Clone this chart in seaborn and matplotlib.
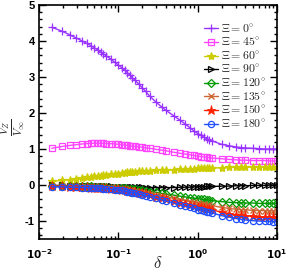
import numpy as np
import pandas as pd
import matplotlib
matplotlib.use("Agg")
import matplotlib.pyplot as plt
import matplotlib.ticker as mticker
import seaborn as sns

delta = [0.0145, 0.0195, 0.0245, 0.0295, 0.035, 0.04, 0.045, 0.05, 0.055, 0.06,
         0.065, 0.07, 0.08, 0.09, 0.1, 0.11, 0.12, 0.13, 0.14, 0.15,
         0.16, 0.18, 0.2, 0.22, 0.25, 0.3, 0.35, 0.4, 0.5, 0.6,
         0.7, 0.8, 0.9, 1.0, 1.1, 1.2, 1.3, 1.4, 1.5, 2.0,
         2.5, 3.0, 3.5, 4.0, 5.0, 6.0, 7.0, 8.0, 9.0, 10.0]

xi_0 = [4.38, 4.27, 4.17, 4.08, 4.0, 3.93, 3.87, 3.81, 3.75, 3.69,
        3.64, 3.59, 3.5, 3.41, 3.33, 3.26, 3.19, 3.12, 3.05, 2.98,
        2.92, 2.81, 2.7, 2.6, 2.46, 2.3, 2.17, 2.07, 1.92, 1.8,
        1.69, 1.59, 1.5, 1.43, 1.38, 1.33, 1.29, 1.26, 1.23, 1.13,
        1.09, 1.06, 1.04, 1.03, 1.02, 1.01, 1.0, 1.0, 1.0, 1.0]
xi_45 = [1.02, 1.07, 1.1, 1.12, 1.14, 1.15, 1.16, 1.16, 1.16, 1.16,
         1.16, 1.15, 1.15, 1.14, 1.13, 1.12, 1.11, 1.1, 1.09, 1.08,
         1.07, 1.06, 1.05, 1.03, 1.02, 0.99, 0.97, 0.95, 0.91, 0.88,
         0.86, 0.84, 0.82, 0.8, 0.79, 0.78, 0.77, 0.76, 0.75, 0.73,
         0.71, 0.7, 0.69, 0.69, 0.68, 0.68, 0.68, 0.67, 0.67, 0.67]
xi_60 = [0.1, 0.13, 0.15, 0.17, 0.19, 0.21, 0.22, 0.24, 0.25, 0.26,
         0.27, 0.28, 0.3, 0.31, 0.32, 0.33, 0.34, 0.35, 0.36, 0.36,
         0.37, 0.38, 0.39, 0.4, 0.4, 0.41, 0.42, 0.42, 0.43, 0.44,
         0.44, 0.45, 0.45, 0.46, 0.46, 0.46, 0.47, 0.47, 0.47, 0.48,
         0.49, 0.49, 0.5, 0.5, 0.5, 0.5, 0.51, 0.51, 0.51, 0.51]
xi_90 = [-0.01, -0.01, -0.02, -0.02, -0.02, -0.03, -0.03, -0.03, -0.03, -0.04,
         -0.04, -0.04, -0.04, -0.05, -0.05, -0.05, -0.05, -0.06, -0.06, -0.06,
         -0.06, -0.06, -0.06, -0.07, -0.07, -0.07, -0.07, -0.07, -0.07, -0.06,
         -0.06, -0.06, -0.05, -0.05, -0.05, -0.05, -0.04, -0.04, -0.04, -0.03,
         -0.03, -0.02, -0.02, -0.02, -0.01, -0.01, -0.01, 0.0, 0.0, 0.0]
xi_120 = [-0.02, -0.02, -0.03, -0.03, -0.04, -0.04, -0.04, -0.05, -0.05, -0.05,
          -0.06, -0.06, -0.07, -0.07, -0.08, -0.09, -0.09, -0.1, -0.11, -0.11,
          -0.12, -0.13, -0.15, -0.16, -0.18, -0.2, -0.23, -0.25, -0.28, -0.31,
          -0.33, -0.35, -0.37, -0.38, -0.39, -0.4, -0.41, -0.42, -0.43, -0.46,
          -0.48, -0.49, -0.49, -0.5, -0.5, -0.51, -0.51, -0.51, -0.51, -0.51]
xi_135 = [-0.03, -0.03, -0.04, -0.04, -0.05, -0.05, -0.06, -0.06, -0.07, -0.07,
          -0.07, -0.08, -0.09, -0.09, -0.1, -0.11, -0.12, -0.13, -0.14, -0.15,
          -0.16, -0.18, -0.2, -0.21, -0.24, -0.27, -0.3, -0.33, -0.37, -0.41,
          -0.44, -0.46, -0.48, -0.5, -0.52, -0.53, -0.55, -0.56, -0.57, -0.62,
          -0.65, -0.67, -0.68, -0.69, -0.7, -0.71, -0.71, -0.72, -0.72, -0.72]
xi_150 = [-0.04, -0.04, -0.05, -0.05, -0.06, -0.06, -0.07, -0.07, -0.08, -0.08,
          -0.09, -0.09, -0.1, -0.11, -0.12, -0.13, -0.14, -0.16, -0.17, -0.18,
          -0.19, -0.21, -0.23, -0.25, -0.29, -0.33, -0.36, -0.39, -0.44, -0.49,
          -0.52, -0.55, -0.58, -0.6, -0.62, -0.64, -0.66, -0.67, -0.69, -0.75,
          -0.79, -0.82, -0.84, -0.85, -0.87, -0.88, -0.89, -0.89, -0.9, -0.9]
xi_180 = [-0.05, -0.05, -0.06, -0.06, -0.07, -0.07, -0.08, -0.08, -0.09, -0.09,
          -0.1, -0.1, -0.11, -0.13, -0.14, -0.15, -0.17, -0.18, -0.2, -0.21,
          -0.22, -0.25, -0.27, -0.3, -0.33, -0.37, -0.41, -0.44, -0.5, -0.55,
          -0.59, -0.62, -0.65, -0.68, -0.7, -0.72, -0.74, -0.76, -0.77, -0.85,
          -0.89, -0.93, -0.95, -0.97, -0.99, -1.0, -1.01, -1.01, -1.02, -1.02]

labels = [r"$\Xi = 0^{\circ}$", r"$\Xi = 45^{\circ}$", r"$\Xi = 60^{\circ}$",
          r"$\Xi = 90^{\circ}$", r"$\Xi = 120^{\circ}$", r"$\Xi = 135^{\circ}$",
          r"$\Xi = 150^{\circ}$", r"$\Xi = 180^{\circ}$"]
series = [xi_0, xi_45, xi_60, xi_90, xi_120, xi_135, xi_150, xi_180]

styles = [
    dict(color="#9933FF", marker="+", mfc="#9933FF", ms=6, mew=0.9),
    dict(color="#FF44FF", marker="s", mfc="none", ms=4, mew=0.9),
    dict(color="#CCCC00", marker="*", mfc="#CCCC00", ms=6, mew=0.9),
    dict(color="#000000", marker=">", mfc="none", ms=4.5, mew=0.9),
    dict(color="#009900", marker="D", mfc="none", ms=4, mew=0.9),
    dict(color="#CC6633", marker="x", mfc="#CC6633", ms=4.5, mew=1.0),
    dict(color="#FF2200", marker="*", mfc="#FF2200", ms=6.5, mew=0.6),
    dict(color="#1F4FFF", marker="o", mfc="none", ms=4.5, mew=0.9),
]

sns.set_style("ticks")
plt.rcParams["mathtext.fontset"] = "cm"
plt.rcParams["axes.unicode_minus"] = False

fig = plt.figure(figsize=(2.91, 2.72), dpi=100)
ax = fig.add_axes([0.134, 0.121, 0.818, 0.861])

handles = []
for lab, ys, st in zip(labels, series, styles):
    df = pd.DataFrame({"delta": delta, "v": ys})
    sns.lineplot(data=df, x="delta", y="v", ax=ax, color=st["color"],
                 marker=st["marker"], markerfacecolor=st["mfc"],
                 markeredgecolor=st["color"], markersize=st["ms"],
                 markeredgewidth=st["mew"], linewidth=1.0, legend=False)
    handles.append(ax.lines[-1])

ax.set_xscale("log")
ax.set_xlim(0.01, 10)
ax.set_ylim(-1.5, 5)
ax.yaxis.set_major_locator(mticker.MultipleLocator(1))
ax.yaxis.set_minor_locator(mticker.MultipleLocator(0.2))
ax.xaxis.set_minor_locator(mticker.LogLocator(base=10, subs=np.arange(2, 10)))

ax.set_xticks([0.01, 0.1, 1, 10])
ax.set_xticklabels([r"$\mathbf{10^{-2}}$", r"$\mathbf{10^{-1}}$",
                    r"$\mathbf{10^{0}}$", r"$\mathbf{10^{1}}$"])
for t in ax.get_xticklabels():
    t.set_math_fontfamily("dejavusans")
    t.set_fontsize(7.5)
ax.set_yticks([-1, 0, 1, 2, 3, 4, 5])
ax.set_yticklabels(["-1", "0", "1", "2", "3", "4", "5"],
                   fontfamily="Liberation Sans", fontweight="bold", fontsize=8)

ax.tick_params(which="both", direction="in", top=True, right=True,
               width=1.0, colors="black")
ax.tick_params(which="major", length=5)
ax.tick_params(axis="x", which="major", pad=6)
ax.tick_params(axis="y", which="major", pad=3)
ax.tick_params(which="minor", length=2.5)
for s in ax.spines.values():
    s.set_linewidth(1.2)
    s.set_color("black")

ax.set_xlabel(r"$\delta$", fontsize=12)
ax.xaxis.set_label_coords(0.5, -0.065)
ax.set_ylabel("")
fig.text(0.045, 0.53, r"$\frac{V_Z}{V_\infty}$", fontsize=11.5,
         rotation=90, ha="center", va="center")

leg = ax.legend(handles, labels, loc="upper right", bbox_to_anchor=(0.99, 0.96),
                frameon=False, fontsize=8.5, handlelength=1.2, handletextpad=0.3,
                labelspacing=0.05, borderaxespad=0.3)

fig.savefig("out.png", dpi=100)
